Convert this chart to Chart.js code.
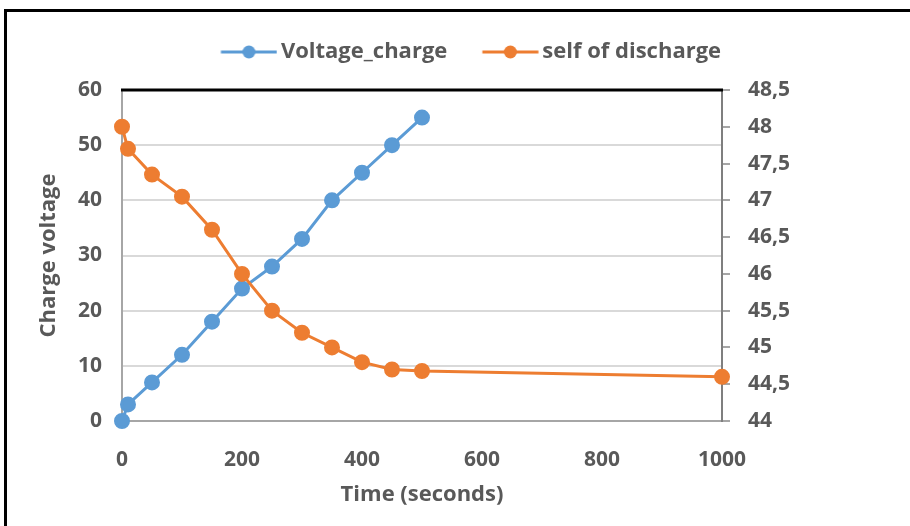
<!DOCTYPE html>
<html>
<head>
<meta charset="utf-8">
<script src="https://cdn.jsdelivr.net/npm/chart.js@4"></script>
<style>
  html, body { margin: 0; padding: 0; background: #fff; }
  #wrap { position: relative; width: 910px; height: 526px; overflow: hidden; }
  #frame { position: absolute; left: 4px; top: 9px; width: 1000px; height: 1000px;
           border-top: 3px solid #000; border-left: 3px solid #000; }
  canvas { position: absolute; left: 0; top: 0; }
</style>
</head>
<body>
<div id="wrap">
  <div id="frame"></div>
  <canvas id="chart" width="910" height="526"></canvas>
</div>
<script>
const chargeTime = [0, 10, 50, 100, 150, 200, 250, 300, 350, 400, 450, 500];
const chargeVoltage = [0, 3, 7, 12, 18, 24, 28, 33, 40, 45, 50, 55];
const dischargeTime = [0, 10, 50, 100, 150, 200, 250, 300, 350, 400, 450, 500, 1000];
const dischargeVoltage = [48, 47.7, 47.35, 47.05, 46.6, 46, 45.5, 45.2, 45, 44.8, 44.7, 44.68, 44.6];

const BLUE = '#5B9BD5';
const ORANGE = '#ED7D31';
const TEXT = '#595959';
const FONT = '"Open Sans", Lato, sans-serif';
const tickFont = { family: FONT, size: 21, weight: 'bold' };

// legend marker: a short line with a dot, like the original.
// the image is centred on a 49px box, so the marker is drawn right of centre
function legendMarker(color) {
  const c = document.createElement('canvas');
  c.width = 64; c.height = 14;
  const g = c.getContext('2d');
  g.strokeStyle = color; g.lineWidth = 3;
  g.beginPath(); g.moveTo(7.5, 7); g.lineTo(63.5, 7); g.stroke();
  g.fillStyle = color;
  g.beginPath(); g.arc(35.5, 7, 6.5, 0, Math.PI * 2); g.fill();
  return c;
}

// extra room under the legend
const legendGap = {
  id: 'legendGap',
  beforeInit(chart) {
    const fit = chart.legend.fit;
    chart.legend.fit = function () { fit.call(this); this.height += 17; };
  }
};

const plotBorder = {
  id: 'plotBorder',
  afterDraw(chart) {
    const a = chart.chartArea, ctx = chart.ctx;
    ctx.save();
    ctx.strokeStyle = '#000'; ctx.lineWidth = 3;
    ctx.beginPath(); ctx.moveTo(a.left - 1, a.top); ctx.lineTo(a.right + 1, a.top); ctx.stroke();
    ctx.restore();
  }
};

const toPoints = (xs, ys) => xs.map((x, i) => ({ x: x, y: ys[i] }));

new Chart(document.getElementById('chart'), {
  type: 'line',
  data: {
    datasets: [{
      label: 'Voltage_charge',
      data: toPoints(chargeTime, chargeVoltage),
      borderColor: BLUE, backgroundColor: BLUE,
      borderWidth: 3, pointRadius: 6.5, pointHoverRadius: 6.5,
      clip: false, yAxisID: 'y', order: 2
    }, {
      label: 'self of discharge',
      data: toPoints(dischargeTime, dischargeVoltage),
      borderColor: ORANGE, backgroundColor: ORANGE,
      borderWidth: 3, pointRadius: 6.5, pointHoverRadius: 6.5,
      clip: false, yAxisID: 'y2', order: 1
    }]
  },
  options: {
    responsive: false,
    animation: false,
    layout: { padding: { top: 6, left: 32, right: 0, bottom: 14 } },
    plugins: {
      tooltip: { enabled: false },
      legend: {
        position: 'top',
        labels: {
          color: TEXT,
          font: { family: FONT, size: 22, weight: 'bold' },
          usePointStyle: true,
          pointStyleWidth: 49,
          padding: 35,
          generateLabels(chart) {
            return chart.data.datasets.map((ds, i) => ({
              text: ds.label,
              fontColor: TEXT,
              pointStyle: legendMarker(ds.borderColor),
              strokeStyle: ds.borderColor,
              fillStyle: ds.borderColor,
              lineWidth: 0,
              datasetIndex: i
            }));
          }
        }
      }
    },
    scales: {
      x: {
        type: 'linear', min: 0, max: 1000,
        ticks: { stepSize: 200, color: TEXT, font: tickFont, padding: 26, callback: v => String(v) },
        grid: { drawOnChartArea: false, drawTicks: false },
        border: { color: '#a6a6a6', width: 2 },
        title: { display: true, text: 'Time (seconds)', color: TEXT,
                 font: { family: FONT, size: 22, weight: 'bold' }, padding: { top: 4 } },
        afterFit(s) { s.height = 91; }
      },
      y: {
        position: 'left', min: 0, max: 60,
        ticks: { stepSize: 10, color: TEXT, font: tickFont, padding: 20 },
        grid: { color: '#d9d9d9', lineWidth: 2, drawTicks: false },
        border: { color: '#a6a6a6', width: 2 },
        title: { display: true, text: 'Charge voltage', color: TEXT,
                 font: { family: FONT, size: 22, weight: 'bold' } },
        afterFit(s) { s.width = 90; }
      },
      y2: {
        position: 'right', min: 44, max: 48.5,
        ticks: { stepSize: 0.5, color: TEXT, font: tickFont, padding: 18,
                 callback: v => String(v).replace('.', ',') },
        grid: { drawOnChartArea: false, color: '#a6a6a6', tickLength: 8, lineWidth: 2 },
        border: { color: '#7f7f7f', width: 2 },
        afterFit(s) { s.width = 188; }
      }
    }
  },
  plugins: [legendGap, plotBorder]
});
</script>
</body>
</html>
